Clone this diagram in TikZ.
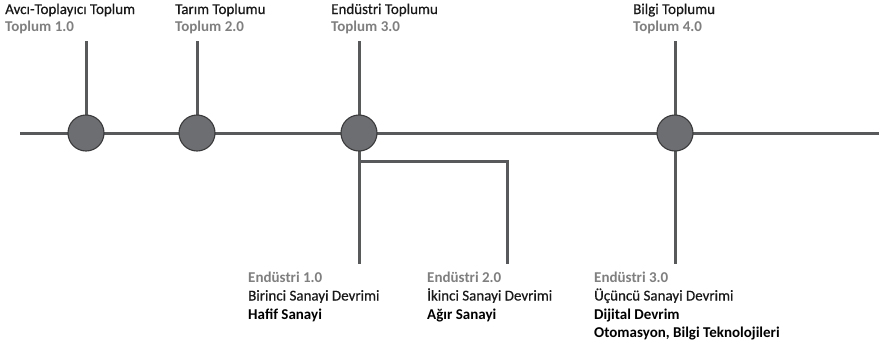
\documentclass[tikz,border=0pt]{standalone}
\usepackage{fontspec}
\setmainfont{Carlito}
\newfontfamily\medfont{Carlito}[FakeBold=0.5]
\definecolor{linegray}{HTML}{58595B}
\definecolor{dotgray}{HTML}{6D6E71}
\definecolor{dotedge}{HTML}{3A3A3C}
\definecolor{labgray}{HTML}{7F7F7F}
\begin{document}
\begin{tikzpicture}[x=1pt,y=-1pt,
  conn/.style={draw=linegray,line width=3pt},
  dot/.style={circle,fill=dotgray,draw=dotedge,line width=1.1pt,minimum size=36pt,inner sep=0pt},
  lab/.style={anchor=base west,inner sep=0pt,text=black!90,font=\fontsize{15}{18}\selectfont\medfont},
  labg/.style={anchor=base west,inner sep=0pt,font=\fontsize{15}{18}\selectfont\bfseries,text=labgray},
  labb/.style={anchor=base west,inner sep=0pt,font=\fontsize{15}{18}\selectfont\bfseries}]
\useasboundingbox (0,0) rectangle (879,346);
% coordinates
\coordinate (L) at (20,133);
\coordinate (R) at (879,133);
\coordinate (t1) at (86,41);
\coordinate (t2) at (197,41);
\coordinate (t3) at (359,41);
\coordinate (t4) at (675,41);
\coordinate (b3) at (359,264);
\coordinate (b4) at (675,264);
\coordinate (br1) at (359,161);
\coordinate (br2) at (507,161);
\coordinate (b2) at (507,264);
% lines
\draw[conn] (L) -- (R);
\draw[conn] (t1) -- (86,133);
\draw[conn] (t2) -- (197,133);
\draw[conn] (t3) -- (359,133);
\draw[conn] (t4) -- (675,133);
\draw[conn] (359,133) -- (b3);
\draw[conn] (675,133) -- (b4);
\draw[conn] (br1) -- (br2) -- (b2);
% dots
\node[dot] (c1) at (86,133) {};
\node[dot] (c2) at (197,133) {};
\node[dot] (c3) at (359,133) {};
\node[dot] (c4) at (675,133) {};
% top labels
\node[lab] (a1) at (5,14) {Avcı-Toplayıcı Toplum};
\node[labg] (a2) at (5,31) {Toplum 1.0};
\node[lab] (s1) at (175,14) {Tarım Toplumu};
\node[labg] (s2) at (175,31) {Toplum 2.0};
\node[lab] (e1) at (331,14) {Endüstri Toplumu};
\node[labg] (e2) at (331,31) {Toplum 3.0};
\node[lab] (g1) at (633,14) {Bilgi Toplumu};
\node[labg] (g2) at (633,31) {Toplum 4.0};
% bottom labels
\node[labg] (i1a) at (248,282) {Endüstri 1.0};
\node[lab] (i1b) at (248,300.5) {Birinci Sanayi Devrimi};
\node[labb] (i1c) at (248,319) {Hafif Sanayi};
\node[labg] (i2a) at (427,282) {Endüstri 2.0};
\node[lab] (i2b) at (427,300.5) {İkinci Sanayi Devrimi};
\node[labb] (i2c) at (427,319) {Ağır Sanayi};
\node[labg] (i3a) at (594,282) {Endüstri 3.0};
\node[lab] (i3b) at (594,300.5) {Üçüncü Sanayi Devrimi};
\node[labb] (i3c) at (594,319) {Dijital Devrim};
\node[labb] (i3d) at (594,337.5) {Otomasyon, Bilgi Teknolojileri};
\end{tikzpicture}
\end{document}
